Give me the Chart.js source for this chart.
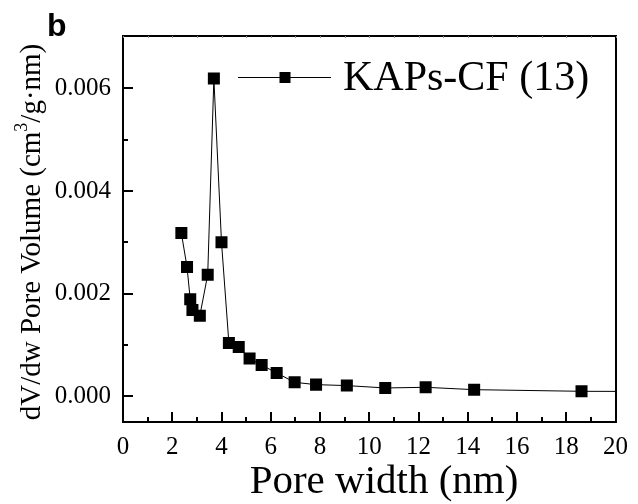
<!DOCTYPE html>
<html>
<head>
<meta charset="utf-8">
<script src="https://cdn.jsdelivr.net/npm/chart.js@4/dist/chart.umd.min.js"></script>
<style>
  html, body { margin: 0; padding: 0; background: #fff; }
</style>
</head>
<body>
<canvas id="grafico" width="638" height="504"></canvas>
<script>
// datos
const ancho = [2.37, 2.60, 2.73, 2.82, 3.12, 3.44, 3.69, 4.00, 4.30, 4.70, 5.14, 5.63, 6.24, 6.97, 7.84, 9.09, 10.65, 12.29, 14.26, 18.62, 25.0];
const volumen = [0.00318, 0.00252, 0.00189, 0.00168, 0.00157, 0.00237, 0.00619, 0.00300, 0.00104, 0.00096, 0.000735, 0.00061, 0.000455, 0.000273, 0.000228, 0.000209, 0.000163, 0.000176, 0.00013, 0.000098, 0.00009];
const ticksX = [0, 2, 4, 6, 8, 10, 12, 14, 16, 18, 20];
const ticksY = [0, 0.002, 0.004, 0.006];
const menoresX = [1, 3, 5, 7, 9, 11, 13, 15, 17, 19];
const menoresY = [0.001, 0.003, 0.005];
const serie = 'KAPs-CF (13)';

const serif = '"Liberation Serif", "Times New Roman", serif';

// marcas de escala hacia adentro, leyenda, títulos
const marcas = {
  id: 'marcas',
  afterDraw(chart) {
    const ctx = chart.ctx;
    const a = chart.chartArea;
    const sx = chart.scales.x, sy = chart.scales.y;
    ctx.save();
    ctx.strokeStyle = '#000';
    ctx.lineWidth = 2;
    ticksX.forEach(v => {
      const px = Math.round(sx.getPixelForValue(v));
      ctx.beginPath(); ctx.moveTo(px, a.bottom); ctx.lineTo(px, a.bottom - 10); ctx.stroke();
    });
    menoresX.forEach(v => {
      const px = Math.round(sx.getPixelForValue(v));
      ctx.beginPath(); ctx.moveTo(px, a.bottom); ctx.lineTo(px, a.bottom - 5); ctx.stroke();
    });
    ticksY.forEach(v => {
      const py = Math.round(sy.getPixelForValue(v));
      ctx.beginPath(); ctx.moveTo(a.left, py); ctx.lineTo(a.left + 10, py); ctx.stroke();
    });
    menoresY.forEach(v => {
      const py = Math.round(sy.getPixelForValue(v));
      ctx.beginPath(); ctx.moveTo(a.left, py); ctx.lineTo(a.left + 5, py); ctx.stroke();
    });
    // marcas diminutas arriba
    ctx.lineWidth = 1;
    ctx.strokeStyle = '#888';
    ticksX.concat(menoresX).forEach(v => {
      const px = Math.round(sx.getPixelForValue(v)) + 0.5;
      ctx.beginPath(); ctx.moveTo(px, a.top); ctx.lineTo(px, a.top + 2); ctx.stroke();
    });

    // leyenda
    const ly = 77;
    ctx.strokeStyle = '#000';
    ctx.lineWidth = 1;
    ctx.beginPath(); ctx.moveTo(238, ly + 0.5); ctx.lineTo(331, ly + 0.5); ctx.stroke();
    ctx.fillStyle = '#000';
    ctx.fillRect(285 - 5.5, ly - 5, 11, 11);
    ctx.font = '42px ' + serif;
    ctx.textBaseline = 'middle';
    ctx.textAlign = 'left';
    ctx.fillText(serie, 343, ly + 2);

    // título X
    ctx.font = '41px ' + serif;
    ctx.textAlign = 'center';
    ctx.textBaseline = 'alphabetic';
    ctx.fillText('Pore width (nm)', 384, 493);

    // letra del panel
    ctx.font = 'bold 32px "Liberation Sans", Arial, sans-serif';
    ctx.textAlign = 'left';
    ctx.fillText('b', 47, 36);
    ctx.restore();
  }
};

// título Y con superíndice
const tituloY = {
  id: 'tituloY',
  afterDraw(chart) {
    const ctx = chart.ctx;
    ctx.save();
    ctx.translate(32, 232);
    ctx.rotate(-Math.PI / 2);
    ctx.fillStyle = '#000';
    ctx.textBaseline = 'middle';
    const f = '29px ' + serif, fs = '18px ' + serif;
    const p1 = 'dV/dw Pore Volume (cm', p2 = '3', p3 = '/g\u00b7nm)';
    ctx.font = f; const w1 = ctx.measureText(p1).width, w3 = ctx.measureText(p3).width;
    ctx.font = fs; const w2 = ctx.measureText(p2).width;
    let x = -(w1 + w2 + w3) / 2;
    ctx.font = f; ctx.fillText(p1, x, 0); x += w1;
    ctx.font = fs; ctx.fillText(p2, x, -10); x += w2;
    ctx.font = f; ctx.fillText(p3, x, 0);
    ctx.restore();
  }
};

new Chart(document.getElementById('grafico'), {
  type: 'line',
  data: {
    datasets: [{
      label: serie,
      data: ancho.map((x, i) => ({ x: x, y: volumen[i] })),
      borderColor: '#000',
      backgroundColor: '#000',
      borderWidth: 1,
      pointStyle: 'rect',
      pointRadius: 8.5,
      pointBorderWidth: 0,
      tension: 0
    }]
  },
  options: {
    responsive: false,
    animation: false,
    layout: { padding: { top: 36, right: 17, left: 0, bottom: 0 } },
    plugins: { legend: { display: false }, tooltip: { enabled: false } },
    scales: {
      x: {
        type: 'linear',
        min: 0, max: 20,
        afterBuildTicks: s => { s.ticks = ticksX.map(v => ({ value: v })); },
        afterFit: s => { s.height = 82; },
        ticks: { color: '#000', font: { family: serif, size: 25 }, padding: 10, maxRotation: 0, autoSkip: false },
        grid: { display: false, drawTicks: false },
        border: { display: true, color: '#000', width: 2 }
      },
      y: {
        type: 'linear',
        min: -0.0005, max: 0.00702,
        afterBuildTicks: s => { s.ticks = ticksY.map(v => ({ value: v })); },
        afterFit: s => { s.width = 123; },
        ticks: { color: '#000', font: { family: serif, size: 25 }, padding: 12, callback: v => v.toFixed(3) },
        grid: { display: false, drawTicks: false },
        border: { display: true, color: '#000', width: 2 }
      },
      x2: {
        type: 'linear', position: 'top', display: true,
        afterFit: s => { s.height = 0; },
        ticks: { display: false },
        grid: { display: false, drawTicks: false },
        border: { display: true, color: '#000', width: 2 }
      },
      y2: {
        type: 'linear', position: 'right', display: true,
        afterFit: s => { s.width = 0; },
        ticks: { display: false },
        grid: { display: false, drawTicks: false },
        border: { display: true, color: '#000', width: 2 }
      }
    }
  },
  plugins: [marcas, tituloY]
});
</script>
</body>
</html>
